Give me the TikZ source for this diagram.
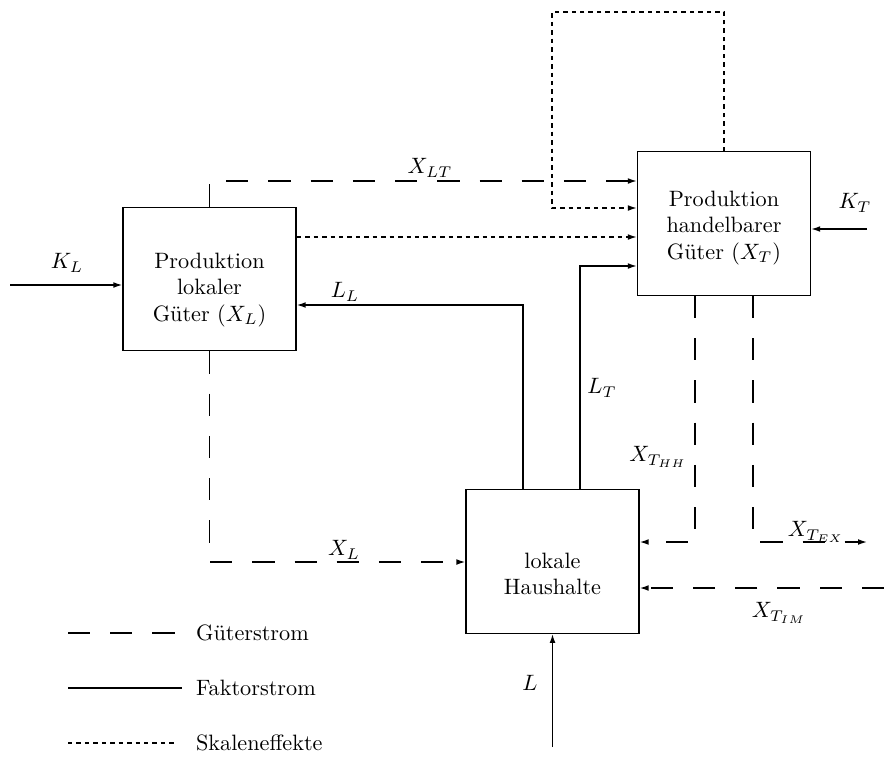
\documentclass[tikz,border=0pt]{standalone}
\usetikzlibrary{arrows.meta}
\begin{document}
\begin{tikzpicture}[
  x=0.45pt, y=-0.45pt,
  line width=0.6pt,
  >={Latex[length=4pt,width=2.6pt]},
  kasten/.style={draw, minimum width=77.9pt, minimum height=64.6pt, inner sep=0pt},
  kastentext/.style={align=center, inner sep=0pt},
  gueter/.style={dash pattern=on 10pt off 9pt},
  skala/.style={dash pattern=on 2pt off 1.8pt}
]
\useasboundingbox (0,0) rectangle (884,760);
\node [kasten] (lokal) at (209.5,279) {};
\node [kastentext] (lokalText) at (209.5,290) {Produktion\\lokaler\\Güter ($X_L$)};
\node [kasten] (handel) at (724,223.5) {};
\node [kastentext] (handelText) at (724,228) {Produktion\\handelbarer\\Güter ($X_T$)};
\node [kasten] (haus) at (552.5,561.5) {};
\node [kastentext] (hausText) at (552.5,574) {lokale\\Haushalte};
\coordinate (kl) at (10,285);
\draw [->] (kl) -- (kl -| lokal.west);
\node (klText) at (67,263) {$K_L$};
\coordinate (xlt) at (209.5,181);
\draw [gueter, ->] (lokal.north) -- (xlt) -- (xlt -| handel.west);
\node (xltText) at (430,168) {$X_{LT}$};
\coordinate (sk) at (300,237);
\draw [skala, ->] (sk -| lokal.east) -- (sk -| handel.west);
\coordinate (lo1) at (724,12);
\coordinate (lo2) at (552,208);
\draw [skala, ->] (handel.north) -- (lo1) -| (lo2) -- (lo2 -| handel.west);
\coordinate (ll) at (523,305);
\draw [->] (ll |- haus.north) -- (ll) -- (ll -| lokal.east);
\node (llText) at (345,292) {$L_L$};
\coordinate (lt) at (580,266);
\draw [->] (lt |- haus.north) -- (lt) -- (lt -| handel.west);
\node (ltText) at (602,388) {$L_T$};
\coordinate (xl) at (209.5,562);
\draw [gueter, ->] (lokal.south) -- (xl) -- (xl -| haus.west);
\node (xlText) at (344,550) {$X_L$};
\coordinate (thh) at (695,542);
\draw [gueter, ->] (thh |- handel.south) -- (thh) -- (thh -| haus.east);
\node (thhText) at (658,457) {$X_{T_{HH}}$};
\coordinate (tex) at (753,542);
\coordinate (texEnd) at (867,542);
\draw [gueter, ->] (tex |- handel.south) -- (tex) -- (texEnd);
\node (texText) at (816,532) {$X_{T_{EX}}$};
\coordinate (tim) at (884,588);
\draw [gueter, ->] (tim) -- (tim -| haus.east);
\node (timText) at (779,613) {$X_{T_{IM}}$};
\coordinate (kt) at (867,229);
\draw [->] (kt) -- (kt -| handel.east);
\node (ktText) at (855,203) {$K_T$};
\coordinate (lin) at (552.5,747);
\draw [->] (lin) -- (haus.south);
\node (linText) at (530,683) {$L$};
\coordinate (g1) at (68,633);
\coordinate (g2) at (182,633);
\draw [gueter] (g1) -- (g2);
\node [anchor=west] (gText) at (188,633) {Güterstrom};
\coordinate (f1) at (68,688);
\coordinate (f2) at (182,688);
\draw (f1) -- (f2);
\node [anchor=west] (fText) at (188,688) {Faktorstrom};
\coordinate (s1) at (68,743);
\coordinate (s2) at (175,743);
\draw [skala] (s1) -- (s2);
\node [anchor=west] (sText) at (188,743) {Skaleneffekte};
\end{tikzpicture}
\end{document}
